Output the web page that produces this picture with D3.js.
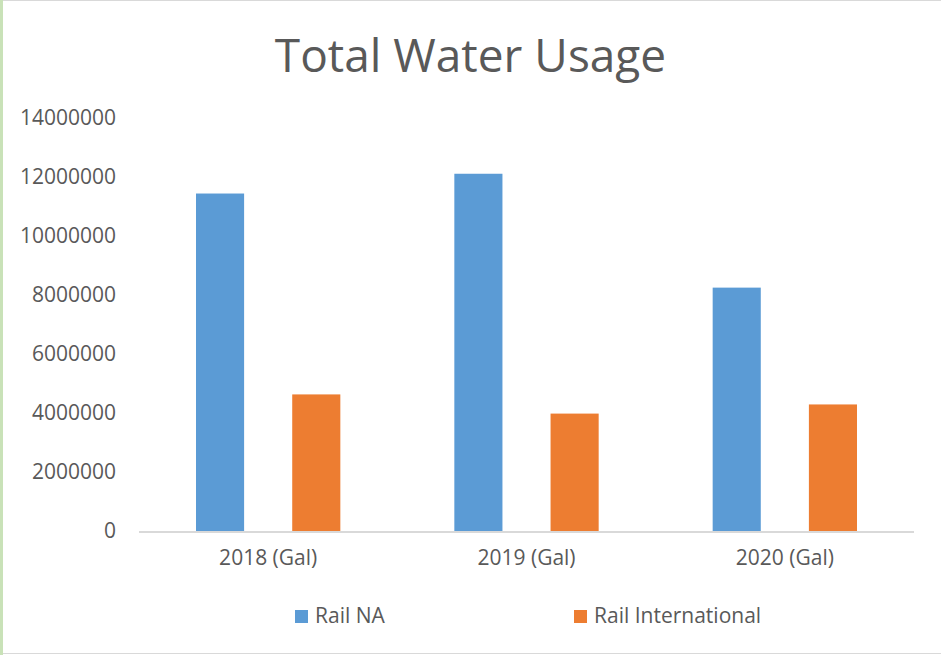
<!DOCTYPE html>
<html lang="en">
<head>
    <meta charset="UTF-8">
    <title>Total Water Usage</title>
    <style>
        body {
            margin: 0;
            background: #fff
        }
        svg {
            display: block;
            font-family: "Open Sans", sans-serif
        }
        svg .title {
            font-size: 46px;
            fill: #595959
        }
        svg .tick-label {
            font-family: "Open Sans", sans-serif;
            font-size: 21px;
            fill: #595959
        }
        svg .legend-label {
            font-size: 21px;
            fill: #595959
        }
        svg .baseline {
            stroke: #d9d9d9;
            stroke-width: 2px
        }
    </style>
</head>
<body>

<div id="chart"></div>

<script src="https://cdnjs.cloudflare.com/ajax/libs/d3/7.8.5/d3.min.js"></script>
<script>
  var categories = ['2018 (Gal)', '2019 (Gal)', '2020 (Gal)'];
  var seriesNames = ['Rail NA', 'Rail International'];
  var railNA = [11440000, 12110000, 8250000];
  var railInternational = [4630000, 3980000, 4290000];
  var yTicks = [0, 2000000, 4000000, 6000000, 8000000, 10000000, 12000000, 14000000];
  var colors = ['#5b9bd5', '#ed7d31'];

  var seriesValues = [railNA, railInternational];

  var width = 941,
    height = 655,
    margin = {top: 118, right: 27, bottom: 124, left: 139},
    innerWidth = width - margin.left - margin.right,
    innerHeight = height - margin.top - margin.bottom;

  var svg = d3.select('#chart').append('svg')
    .attr('width', width)
    .attr('height', height);

  // frame lines around the picture
  svg.append('rect').attr('x', 0).attr('y', 0).attr('width', width).attr('height', 1).attr('fill', '#d9d9d9');
  svg.append('rect').attr('x', 0).attr('y', height - 2).attr('width', width).attr('height', 1).attr('fill', '#d9d9d9');
  svg.append('rect').attr('x', 0).attr('y', 0).attr('width', 3).attr('height', height).attr('fill', '#c9e2b8');

  svg.append('text')
    .attr('class', 'title')
    .attr('x', width / 2)
    .attr('y', 72)
    .attr('text-anchor', 'middle')
    .text('Total Water Usage');

  var canvas = svg.append('g')
    .attr('transform', 'translate(' + margin.left + ',' + margin.top + ')');

  var x0 = d3.scaleBand()
    .domain(categories)
    .range([0, innerWidth]);

  var x1 = d3.scaleBand()
    .domain(seriesNames)
    .range([57, x0.bandwidth() - 57])
    .paddingInner(0.5);

  var y = d3.scaleLinear()
    .domain([0, 14000000])
    .range([innerHeight, 0]);

  var cleanAxis = function(g) {
    g.attr('font-family', null).attr('font-size', null);
    g.select('.domain').remove();
    g.selectAll('text')
      .attr('class', 'tick-label')
      .attr('fill', null);
  };

  // y axis labels, no axis line
  var yAxis = d3.axisLeft(y)
    .tickValues(yTicks)
    .tickSize(0)
    .tickPadding(23)
    .tickFormat(d3.format('d'));

  canvas.append('g').call(yAxis).call(cleanAxis);

  // bars
  var groups = canvas.selectAll('.cat')
    .data(categories)
    .enter()
    .append('g')
    .attr('class', 'cat')
    .attr('transform', function(d) { return 'translate(' + x0(d) + ',0)'; });

  groups.selectAll('rect')
    .data(function(d, i) {
      return seriesNames.map(function(s, j) {
        return {series: s, value: seriesValues[j][i], color: colors[j]};
      });
    })
    .enter()
    .append('rect')
    .attr('x', function(d) { return x1(d.series); })
    .attr('y', function(d) { return y(d.value); })
    .attr('width', x1.bandwidth())
    .attr('height', function(d) { return innerHeight - y(d.value); })
    .attr('fill', function(d) { return d.color; });

  // x axis
  var xAxis = d3.axisBottom(x0)
    .tickSize(0)
    .tickPadding(19);

  canvas.append('g')
    .attr('transform', 'translate(0,' + innerHeight + ')')
    .call(xAxis)
    .call(cleanAxis);

  canvas.append('line')
    .attr('class', 'baseline')
    .attr('x1', 0)
    .attr('x2', innerWidth)
    .attr('y1', innerHeight + 1)
    .attr('y2', innerHeight + 1);

  // legend
  var legendX = [295, 574];
  var legend = svg.selectAll('.legend-item')
    .data(seriesNames)
    .enter()
    .append('g')
    .attr('class', 'legend-item')
    .attr('transform', function(d, i) { return 'translate(' + legendX[i] + ',610)'; });

  legend.append('rect')
    .attr('width', 13)
    .attr('height', 13)
    .attr('fill', function(d, i) { return colors[i]; });

  legend.append('text')
    .attr('class', 'legend-label')
    .attr('x', 20)
    .attr('y', 13)
    .text(function(d) { return d; });
</script>

</body>
</html>
